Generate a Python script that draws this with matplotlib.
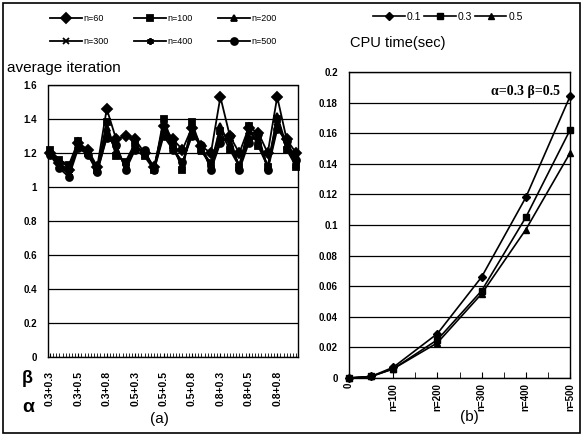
import matplotlib.pyplot as plt
from matplotlib.patches import Rectangle

plt.rcParams['font.family'] = ['Liberation Sans', 'DejaVu Sans']

# (a) average iteration for every alpha/beta/gamma combination
ab_labels = ["0.3+0.3", "0.3+0.5", "0.3+0.8", "0.5+0.3", "0.5+0.5",
             "0.5+0.8", "0.8+0.3", "0.8+0.5", "0.8+0.8"]
iter_n60 = [1.20, 1.14, 1.10, 1.26, 1.22, 1.12, 1.46, 1.28, 1.30, 1.28, 1.20, 1.12, 1.36, 1.28,
            1.22, 1.35, 1.24, 1.20, 1.53, 1.30, 1.20, 1.35, 1.32, 1.20, 1.53, 1.28, 1.20]
iter_n100 = [1.22, 1.16, 1.13, 1.27, 1.20, 1.10, 1.38, 1.18, 1.15, 1.26, 1.18, 1.10, 1.40, 1.25,
             1.10, 1.38, 1.22, 1.14, 1.33, 1.22, 1.12, 1.36, 1.24, 1.12, 1.40, 1.22, 1.12]
iter_n200 = [1.21, 1.15, 1.12, 1.26, 1.21, 1.11, 1.35, 1.20, 1.14, 1.25, 1.19, 1.11, 1.37, 1.24,
             1.12, 1.36, 1.21, 1.13, 1.36, 1.24, 1.13, 1.33, 1.26, 1.12, 1.42, 1.24, 1.13]
iter_n300 = [1.20, 1.13, 1.09, 1.25, 1.20, 1.10, 1.32, 1.22, 1.12, 1.24, 1.20, 1.11, 1.34, 1.22,
             1.13, 1.33, 1.23, 1.11, 1.30, 1.26, 1.12, 1.30, 1.28, 1.12, 1.38, 1.25, 1.14]
iter_n400 = [1.20, 1.12, 1.08, 1.24, 1.20, 1.09, 1.30, 1.24, 1.11, 1.23, 1.21, 1.10, 1.32, 1.23,
             1.14, 1.32, 1.24, 1.11, 1.28, 1.28, 1.11, 1.28, 1.29, 1.11, 1.36, 1.26, 1.15]
iter_n500 = [1.19, 1.11, 1.06, 1.23, 1.19, 1.09, 1.29, 1.25, 1.10, 1.22, 1.22, 1.10, 1.30, 1.22,
             1.15, 1.30, 1.25, 1.10, 1.26, 1.30, 1.10, 1.26, 1.31, 1.10, 1.34, 1.27, 1.16]

# (b) CPU time against problem size
sizes = [0, 50, 100, 200, 300, 400, 500]
cpu_01 = [0.0, 0.001, 0.007, 0.029, 0.066, 0.118, 0.184]
cpu_03 = [0.0, 0.001, 0.006, 0.025, 0.057, 0.105, 0.162]
cpu_05 = [0.0, 0.001, 0.006, 0.023, 0.055, 0.097, 0.147]

fig = plt.figure(figsize=(5.82, 4.36), dpi=100)
fig.patches.append(Rectangle((0.006, 0.008), 0.99, 0.984, transform=fig.transFigure,
                             fill=False, lw=1.2, ec='black'))

# ---- left chart
ax1 = fig.add_axes([0.0825, 0.181, 0.4296, 0.624])
series = [(iter_n60, 'D', 'n=60'), (iter_n100, 's', 'n=100'), (iter_n200, '^', 'n=200'),
          (iter_n300, 'x', 'n=300'), (iter_n400, (6, 2, 0), 'n=400'), (iter_n500, 'o', 'n=500')]
xs = list(range(len(iter_n60)))
handles = []
for vals, mk, lab in series:
    h, = ax1.plot(xs, vals, color='black', lw=1.3, marker=mk, ms=5, mew=1.3, label=lab,
                  clip_on=False)
    handles.append(h)
ax1.set_xlim(-0.2, 26.2)
ax1.set_ylim(0, 1.6)
ax1.set_yticks([0, 0.2, 0.4, 0.6, 0.8, 1, 1.2, 1.4, 1.6])
ax1.set_yticklabels(["0", "0.2", "0.4", "0.6", "0.8", "1", "1.2", "1.4", "1.6"],
                    fontsize=7, fontweight='bold')
ax1.yaxis.grid(True, color='black', lw=0.9)
ax1.set_xticks(range(0, 27, 3))
ax1.set_xticklabels(ab_labels, rotation=90, fontsize=7.5, fontweight='bold')
ax1.set_xticks([i / 3 for i in range(0, 79)], minor=True)
ax1.tick_params(axis='x', which='both', direction='in', length=3)
ax1.tick_params(axis='x', which='major', pad=10)
ax1.tick_params(axis='y', length=0, pad=8)
for s in ['top', 'right', 'left']:
    ax1.spines[s].set_linestyle((0, (1, 1)))
    ax1.spines[s].set_linewidth(1.0)
ax1.spines['bottom'].set_linewidth(1.0)
fig.text(0.012, 0.835, "average iteration", fontsize=11)
fig.text(0.038, 0.122, "β", fontsize=13, fontweight='bold')
fig.text(0.038, 0.055, "α", fontsize=14, fontweight='bold')
fig.text(0.258, 0.03, "(a)", fontsize=11)
# row-wise order for a 3-column legend
order = [0, 3, 1, 4, 2, 5]
fig.legend(handles=[handles[i] for i in order], loc='center', bbox_to_anchor=(0.28, 0.931),
           ncol=3, frameon=False, fontsize=6.5, handlelength=3.6, columnspacing=2.8,
           handletextpad=0.1, labelspacing=1.6)

# ---- right chart
ax2 = fig.add_axes([0.5997, 0.133, 0.3797, 0.702])
h1, = ax2.plot(sizes, cpu_01, color='black', lw=1.2, marker='D', ms=4.5, label='0.1', clip_on=False)
h2, = ax2.plot(sizes, cpu_03, color='black', lw=1.2, marker='s', ms=5, label='0.3', clip_on=False)
h3, = ax2.plot(sizes, cpu_05, color='black', lw=1.2, marker='^', ms=5, label='0.5', clip_on=False)
ax2.set_xlim(0, 500)
ax2.set_ylim(0, 0.2)
ax2.set_yticks([0, 0.02, 0.04, 0.06, 0.08, 0.1, 0.12, 0.14, 0.16, 0.18, 0.2])
ax2.set_yticklabels(["0", "0.02", "0.04", "0.06", "0.08", "0.1", "0.12", "0.14", "0.16",
                     "0.18", "0.2"], fontsize=7, fontweight='bold')
ax2.yaxis.grid(True, color='black', lw=0.9)
ax2.set_xticks([0, 100, 200, 300, 400, 500])
ax2.set_xticklabels(["0", "n=100", "n=200", "n=300", "n=400", "n=500"], rotation=90,
                    fontsize=7, fontweight='bold')
ax2.set_xticks(range(0, 501, 50), minor=True)
ax2.tick_params(axis='x', which='both', direction='in', length=4)
ax2.tick_params(axis='y', length=0, pad=8)
for s in ax2.spines.values():
    s.set_linewidth(1.0)
ax2.text(0.955, 0.935, "α=0.3 β=0.5", transform=ax2.transAxes, ha='right', va='center',
         fontsize=10, fontweight='bold', family=['Liberation Serif', 'DejaVu Serif'])
fig.text(0.602, 0.892, "CPU time(sec)", fontsize=10.5)
fig.text(0.79, 0.035, "(b)", fontsize=11)
fig.legend(handles=[h1, h2, h3], loc='center', bbox_to_anchor=(0.77, 0.962), ncol=3,
           frameon=False, fontsize=7.5, handlelength=3.0, columnspacing=0.3, handletextpad=0.2)

fig.savefig('out.png', dpi=100)
